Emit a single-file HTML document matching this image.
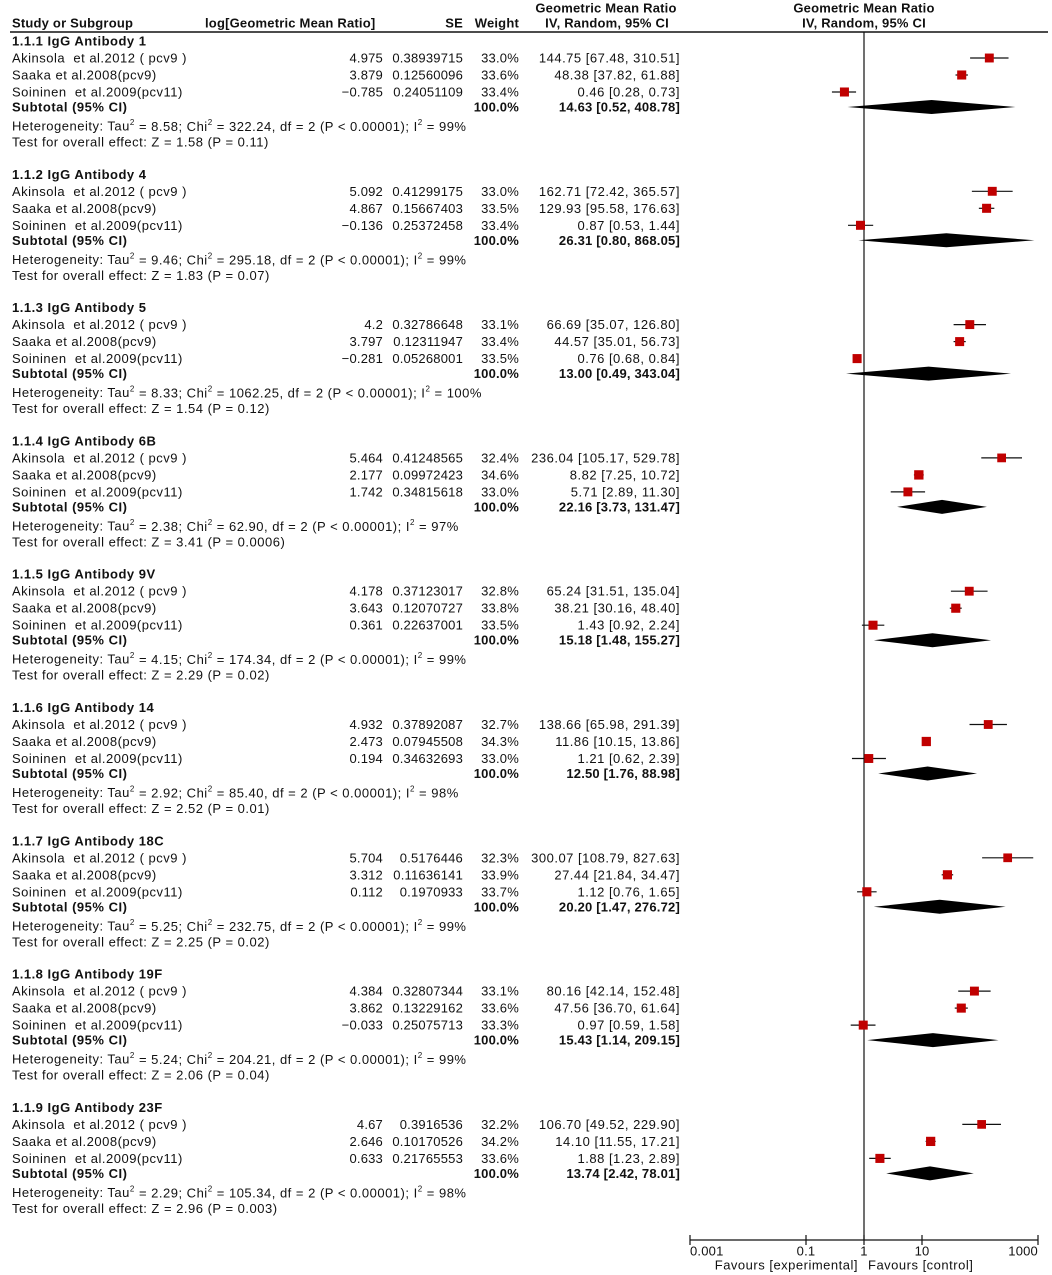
<!DOCTYPE html>
<html><head><meta charset="utf-8"><style>
html,body{margin:0;padding:0;background:#fff;}
svg{display:block;font-family:"Liberation Sans",sans-serif;font-size:13px;letter-spacing:0.2px;}
text{dominant-baseline:central;fill:#111;white-space:pre;}
.b{font-weight:bold;}
.w{letter-spacing:0.5px;}
</style></head><body>
<svg id="plot" width="1052" height="1275" viewBox="0 0 1052 1275" xmlns="http://www.w3.org/2000/svg">
<g>
<text class="b" x="12" y="23">Study or Subgroup</text>
<text class="b" x="205" y="23">log[Geometric Mean Ratio]</text>
<text class="b" x="463" y="23" text-anchor="end">SE</text>
<text class="b" x="519" y="23" text-anchor="end">Weight</text>
<text class="b" x="606" y="8" text-anchor="middle">Geometric Mean Ratio</text>
<text class="b" x="607" y="23" text-anchor="middle">IV, Random, 95% CI</text>
<text class="b" x="864" y="8" text-anchor="middle">Geometric Mean Ratio</text>
<text class="b" x="864" y="23" text-anchor="middle">IV, Random, 95% CI</text>
<line x1="10" y1="32" x2="1048" y2="32" stroke="#111" stroke-width="1.5"/>
</g>
<g id="rows"></g>
<g id="marks"></g>
<g id="axis"></g>
</svg>
<script>
const groupTitles=["1.1.1 IgG Antibody 1","1.1.2 IgG Antibody 4","1.1.3 IgG Antibody 5","1.1.4 IgG Antibody 6B","1.1.5 IgG Antibody 9V","1.1.6 IgG Antibody 14","1.1.7 IgG Antibody 18C","1.1.8 IgG Antibody 19F","1.1.9 IgG Antibody 23F"];
const studyNames=["Akinsola  et al.2012 ( pcv9 )","Saaka et al.2008(pcv9)","Soininen  et al.2009(pcv11)"];
const logValues=[["4.975","3.879","−0.785"],["5.092","4.867","−0.136"],["4.2","3.797","−0.281"],["5.464","2.177","1.742"],["4.178","3.643","0.361"],["4.932","2.473","0.194"],["5.704","3.312","0.112"],["4.384","3.862","−0.033"],["4.67","2.646","0.633"]];
const seValues=[["0.38939715","0.12560096","0.24051109"],["0.41299175","0.15667403","0.25372458"],["0.32786648","0.12311947","0.05268001"],["0.41248565","0.09972423","0.34815618"],["0.37123017","0.12070727","0.22637001"],["0.37892087","0.07945508","0.34632693"],["0.5176446","0.11636141","0.1970933"],["0.32807344","0.13229162","0.25075713"],["0.3916536","0.10170526","0.21765553"]];
const weights=[[33.0,33.6,33.4],[33.0,33.5,33.4],[33.1,33.4,33.5],[32.4,34.6,33.0],[32.8,33.8,33.5],[32.7,34.3,33.0],[32.3,33.9,33.7],[33.1,33.6,33.3],[32.2,34.2,33.6]];
const estimates=[[144.75,48.38,0.46],[162.71,129.93,0.87],[66.69,44.57,0.76],[236.04,8.82,5.71],[65.24,38.21,1.43],[138.66,11.86,1.21],[300.07,27.44,1.12],[80.16,47.56,0.97],[106.70,14.10,1.88]];
const lowerCI=[[67.48,37.82,0.28],[72.42,95.58,0.53],[35.07,35.01,0.68],[105.17,7.25,2.89],[31.51,30.16,0.92],[65.98,10.15,0.62],[108.79,21.84,0.76],[42.14,36.70,0.59],[49.52,11.55,1.23]];
const upperCI=[[310.51,61.88,0.73],[365.57,176.63,1.44],[126.80,56.73,0.84],[529.78,10.72,11.30],[135.04,48.40,2.24],[291.39,13.86,2.39],[827.63,34.47,1.65],[152.48,61.64,1.58],[229.90,17.21,2.89]];
const subEst=[14.63,26.31,13.00,22.16,15.18,12.50,20.20,15.43,13.74];
const subLo=[0.52,0.80,0.49,3.73,1.48,1.76,1.47,1.14,2.42];
const subHi=[408.78,868.05,343.04,131.47,155.27,88.98,276.72,209.15,78.01];
const tau2=["8.58","9.46","8.33","2.38","4.15","2.92","5.25","5.24","2.29"];
const chi2=["322.24","295.18","1062.25","62.90","174.34","85.40","232.75","204.21","105.34"];
const i2=["99","99","100","97","99","98","99","99","98"];
const zVals=["1.58","1.83","1.54","3.41","2.29","2.52","2.25","2.06","2.96"];
const pVals=["0.11","0.07","0.12","0.0006","0.02","0.01","0.02","0.04","0.003"];
const tickVals=[0.001,0.1,1,10,1000];
const tickLabels=["0.001","0.1","1","10","1000"];

const NS="http://www.w3.org/2000/svg";
const X0=864, DEC=58;
function xScale(v){return X0+DEC*Math.log10(v);}
function f2(v){return v.toFixed(2);}
function mk(tag,attrs,parent,txt){const e=document.createElementNS(NS,tag);for(const k in attrs)e.setAttribute(k,attrs[k]);if(txt!==undefined)e.textContent=txt;parent.appendChild(e);return e;}
const rows=document.getElementById('rows'), marks=document.getElementById('marks'), axis=document.getElementById('axis');
const G0=41, GS=133.3;
const nl=mk('line',{x1:X0,y1:32,x2:X0,y2:1240,stroke:'#111','stroke-width':1.2},marks);


groupTitles.forEach((t,g)=>{
  const y=G0+g*GS;
  const gt=mk('text',{x:12,y:y,class:'b w'},rows,t);
  
  
  for(let i=0;i<3;i++){
    const yy=y+17*(i+1);
    const n=mk('text',{x:12,y:yy,class:'w'},rows,studyNames[i]);
    
    
    const l=mk('text',{x:383,y:yy,'text-anchor':'end'},rows,logValues[g][i]);
    
    
    const s=mk('text',{x:463,y:yy,'text-anchor':'end'},rows,seValues[g][i]);
    
    
    const w=mk('text',{x:519,y:yy,'text-anchor':'end'},rows,weights[g][i].toFixed(1)+'%');
    
    
    const c=mk('text',{x:680,y:yy,'text-anchor':'end',class:'w'},rows,f2(estimates[g][i])+' ['+f2(lowerCI[g][i])+', '+f2(upperCI[g][i])+']');
    
    
    const wh=mk('line',{x1:xScale(lowerCI[g][i]),x2:xScale(upperCI[g][i]),y1:yy,y2:yy,stroke:'#111','stroke-width':1.2},marks);
    
    
    const sz=weights[g][i]*0.27;
    const sq=mk('rect',{x:xScale(estimates[g][i])-sz/2,y:yy-sz/2,width:sz,height:sz,fill:'#c00000'},marks);
    
    
  }
  const ys=y+66;
  const st=mk('text',{x:12,y:ys,class:'b w'},rows,'Subtotal (95% CI)');
  
  
  const sw=mk('text',{x:519,y:ys,class:'b','text-anchor':'end'},rows,'100.0%');
  
  
  const sc=mk('text',{x:680,y:ys,class:'b','text-anchor':'end'},rows,f2(subEst[g])+' ['+f2(subLo[g])+', '+f2(subHi[g])+']');
  
  
  const xl=xScale(subLo[g]),xm=xScale(subEst[g]),xh=xScale(subHi[g]);
  const d=mk('polygon',{points:`${xl},${ys} ${xm},${ys-7} ${xh},${ys} ${xm},${ys+7}`,fill:'#000'},marks);
  
  
  const h=mk('text',{x:12,y:y+85,class:'w'},rows);
  
  
  h.innerHTML='Heterogeneity: Tau<tspan dy="-4" font-size="8">2</tspan><tspan dy="4"> = '+tau2[g]+'; Chi</tspan><tspan dy="-4" font-size="8">2</tspan><tspan dy="4"> = '+chi2[g]+', df = 2 (P &lt; 0.00001); I</tspan><tspan dy="-4" font-size="8">2</tspan><tspan dy="4"> = '+i2[g]+'%</tspan>';
  const z=mk('text',{x:12,y:y+101,class:'w'},rows,'Test for overall effect: Z = '+zVals[g]+' (P = '+pVals[g]+')');
  
  
});
const AY=1240;
const al=mk('line',{x1:xScale(tickVals[0]),x2:xScale(tickVals[tickVals.length-1]),y1:AY,y2:AY,stroke:'#111','stroke-width':1.2},axis);


tickVals.forEach((v,i)=>{
  const x=xScale(v);
  const t=mk('line',{x1:x,x2:x,y1:AY-5,y2:AY+5,stroke:'#111','stroke-width':1.2},axis);
  
  
  let anchor='middle', tx=x;
  if(i===0){anchor='start';} if(i===tickVals.length-1){anchor='end';}
  const lb=mk('text',{x:tx,y:AY+11,'text-anchor':anchor},axis,tickLabels[i]);
  
  
});
const fe=mk('text',{x:X0-6,y:AY+25,'text-anchor':'end',class:'w'},axis,'Favours [experimental]');


const fc=mk('text',{x:X0+4,y:AY+25,class:'w'},axis,'Favours [control]');


</script>
</body></html>
